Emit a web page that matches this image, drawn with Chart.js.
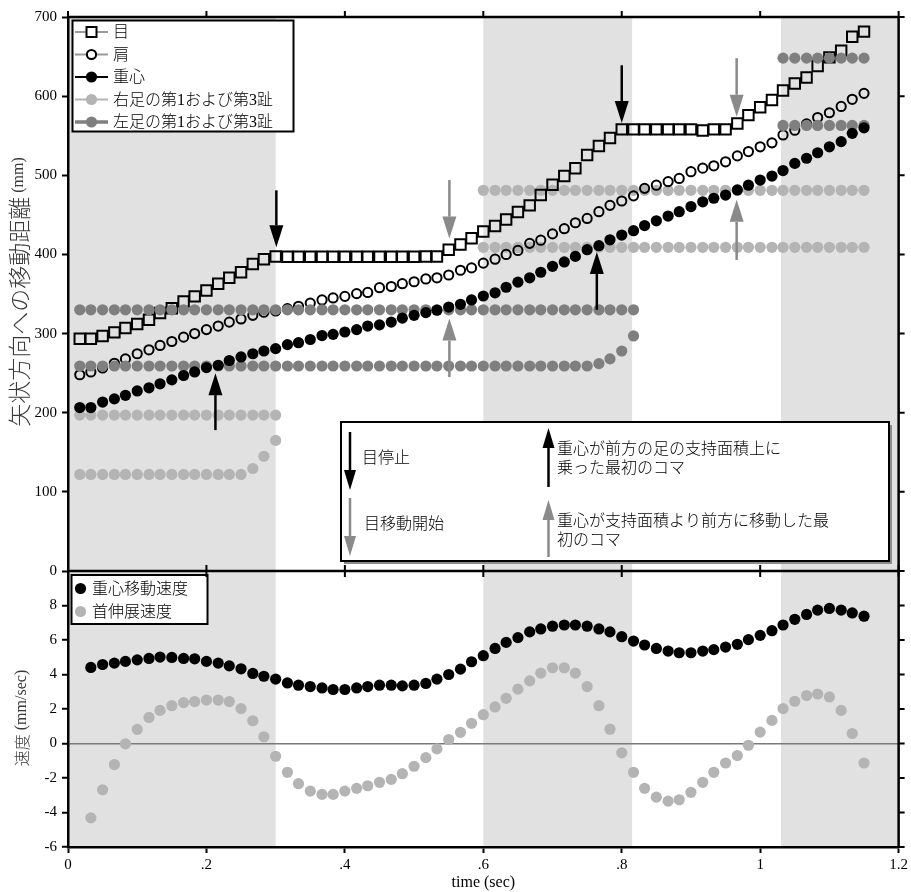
<!DOCTYPE html>
<html>
<head>
<meta charset="utf-8">
<script src="https://cdn.jsdelivr.net/npm/chart.js@4.4.0/dist/chart.umd.min.js"></script>
<style>
  html, body { margin: 0; padding: 0; background: #fff; }
  canvas { display: block; }
</style>
</head>
<body>
<canvas id="gait" width="911" height="892" style="width:911px;height:892px"></canvas>
<script>
// frame times (sec), 60 fps
const times = [
  0.017, 0.033, 0.05, 0.067, 0.083, 0.1, 0.117, 0.133, 0.15, 0.167,
  0.183, 0.2, 0.217, 0.233, 0.25, 0.267, 0.283, 0.3, 0.317, 0.333,
  0.35, 0.367, 0.383, 0.4, 0.417, 0.433, 0.45, 0.467, 0.483, 0.5,
  0.517, 0.533, 0.55, 0.567, 0.583, 0.6, 0.617, 0.633, 0.65, 0.667,
  0.683, 0.7, 0.717, 0.733, 0.75, 0.767, 0.783, 0.8, 0.817, 0.833,
  0.85, 0.867, 0.883, 0.9, 0.917, 0.933, 0.95, 0.967, 0.983, 1.0,
  1.017, 1.033, 1.05, 1.067, 1.083, 1.1, 1.117, 1.133, 1.15
];

// 矢状方向への移動距離 (mm)
const eyePos = [
  293.5, 293.5, 297, 301.5, 307, 312, 317.5, 326, 332, 340.5,
  347, 354.5, 363, 370.5, 377.5, 388, 394, 397.5, 397, 397,
  397, 397, 397, 397, 397, 397, 397, 397, 397, 397,
  397.5, 397.5, 406, 412.5, 420.5, 429, 436, 444, 453.5, 462,
  475, 488, 499, 509, 525.5, 537, 547, 558, 558, 558,
  558, 558, 558, 558, 556.5, 558, 558, 565.5, 576, 586,
  595, 607, 616, 623.5, 638, 649, 657.5, 675, 681.5
];
const shoulderPos = [
  248, 251.5, 256.5, 262.5, 268, 274.5, 279.5, 285, 290, 295.5,
  300, 305, 309.5, 314.5, 318.5, 323, 327, 328.5, 331.5, 334.5,
  338.5, 342.5, 345, 347, 350.5, 352, 358, 359.5, 363, 365.5,
  369, 370.5, 374, 380, 383, 389, 394, 400, 405, 414,
  418, 426, 432.5, 440, 445.5, 454, 462, 467.5, 474, 483.5,
  487.5, 492, 496, 504.5, 509, 512, 517, 524.5, 530, 536,
  541, 551, 557, 565, 573, 579, 587, 596, 603.5
];
const comPos = [
  206.5, 206.5, 213.5, 217.5, 222, 227.5, 231.5, 236.5, 241.5, 247,
  251.5, 257, 260, 266, 270.5, 274.5, 278, 281, 286, 288.5,
  292.5, 297.5, 299, 302, 305, 309.5, 311, 314.5, 319.5, 323,
  326.5, 329.5, 333.5, 337, 342.5, 347.5, 351.5, 358.5, 365, 370.5,
  377.5, 385, 390.5, 397.5, 406, 411, 418.5, 424.5, 430, 436.5,
  442.5, 448.5, 454, 460.5, 466.5, 471, 475, 481.5, 487.5, 494,
  499, 506, 515, 521.5, 528.5, 536, 542.5, 553, 560
];
const rightToeA = [
  197, 197, 197, 197, 197, 197, 197, 197, 197, 197,
  197, 197, 197, 197, 197, 197, 197, 197, null, null,
  null, null, null, null, null, null, null, null, null, null,
  null, null, null, null, null, 481, 481, 481, 481, 481,
  481, 481, 481, 481, 481, 481, 481, 481, 481, 481,
  481, 481, 481, 481, 481, 481, 481, 481, 481, 481,
  481, 481, 481, 481, 481, 481, 481, 481, 481
];
const rightToeB = [
  122, 122, 122, 122, 122, 122, 122, 122, 122, 122,
  122, 122, 122, 122, 122, 129.5, 145, 165, null, null,
  null, null, null, null, null, null, null, null, null, null,
  null, null, null, null, null, 409, 409, 409, 409, 409,
  409, 409, 409, 409, 409, 409, 409, 409, 409, 409,
  409, 409, 409, 409, 409, 409, 409, 409, 409, 409,
  409, 409, 409, 409, 409, 409, 409, 409, 409
];
const leftToeA = [
  330, 330, 330, 330, 330, 330, 330, 330, 330, 330,
  330, 330, 330, 330, 330, 330, 330, 330, 330, 330,
  330, 330, 330, 330, 330, 330, 330, 330, 330, 330,
  330, 330, 330, 330, 330, 330, 330, 330, 330, 330,
  330, 330, 330, 330, 330, 330, 330, 330, 330, null,
  null, null, null, null, null, null, null, null, null, null,
  null, 648, 648, 648, 648, 648, 648, 648, 648
];
const leftToeB = [
  259, 259, 259, 259, 259, 259, 259, 259, 259, 259,
  259, 259, 259, 259, 259, 259, 259, 259, 259, 259,
  259, 259, 259, 259, 259, 259, 259, 259, 259, 259,
  259, 259, 259, 259, 259, 259, 259, 259, 259, 259,
  259, 259, 259, 259, 259, 262, 268, 278, 297, null,
  null, null, null, null, null, null, null, null, null, null,
  null, 563, 563, 563, 563, 563, 563, 563, 563
];

// 速度 (mm/sec)
const comVel = [
  null, 4.41, 4.58, 4.66, 4.76, 4.85, 4.93, 5.01, 4.99, 4.93,
  4.91, 4.76, 4.66, 4.50, 4.33, 4.06, 3.90, 3.73, 3.51, 3.38,
  3.30, 3.22, 3.13, 3.13, 3.22, 3.30, 3.38, 3.38, 3.34, 3.38,
  3.48, 3.73, 4.00, 4.31, 4.74, 5.09, 5.51, 5.86, 6.14, 6.47,
  6.64, 6.80, 6.87, 6.87, 6.80, 6.64, 6.47, 6.19, 5.94, 5.71,
  5.51, 5.36, 5.26, 5.26, 5.36, 5.44, 5.59, 5.75, 6.02, 6.27,
  6.54, 6.87, 7.20, 7.48, 7.73, 7.83, 7.73, 7.57, 7.38
];
const neckVel = [
  null, -4.31, -2.68, -1.22, -0.02, 0.82, 1.51, 1.92, 2.19, 2.37,
  2.43, 2.52, 2.52, 2.43, 2.02, 1.32, 0.39, -0.74, -1.67, -2.33,
  -2.76, -2.95, -2.95, -2.76, -2.60, -2.45, -2.25, -2.08, -1.75, -1.32,
  -0.82, -0.31, 0.23, 0.65, 1.17, 1.67, 2.12, 2.62, 3.15, 3.63,
  4.08, 4.39, 4.39, 4.08, 3.30, 2.19, 0.83, -0.54, -1.67, -2.60,
  -3.11, -3.34, -3.26, -2.83, -2.25, -1.67, -1.13, -0.70, -0.10, 0.66,
  1.34, 2.02, 2.45, 2.78, 2.87, 2.70, 1.92, 0.58, -1.13
];

// shaded time spans (sec)
const bandStart = [0, 0.6, 1.03];
const bandEnd = [0.3, 0.815, 1.2];

// marker arrows in the top panel: time, from value, to value (tip)
const arrowTime = [0.301, 0.8, 0.551, 0.966, 0.213, 0.764, 0.551, 0.966];
const arrowFrom = [481, 639, 494, 648, 178, 330, 245, 393];
const arrowTo   = [409, 566, 420, 574, 250, 403, 319, 469];
const arrowKind = ['stop', 'stop', 'start', 'start', 'on', 'on', 'ahead', 'ahead'];

const BLACK = '#000';
const DARK = '#7f7f7f';
const LIGHT = '#b4b4b4';
const ARROW_GRAY = '#8a8a8a';
const BAND = '#e1e1e1';
const FONT = "'Liberation Serif', 'Noto Sans CJK JP', serif";
const CJK = "'Noto Sans CJK JP', sans-serif";

Chart.defaults.font.family = FONT;
Chart.defaults.color = '#000';

function drawArrow(ctx, x, y0, y1, color, head, half) {
  const dir = y1 > y0 ? 1 : -1;
  ctx.save();
  ctx.strokeStyle = color;
  ctx.fillStyle = color;
  ctx.lineWidth = 2.5;
  ctx.beginPath();
  ctx.moveTo(x, y0);
  ctx.lineTo(x, y1 - dir * head);
  ctx.stroke();
  ctx.beginPath();
  ctx.moveTo(x, y1);
  ctx.lineTo(x - half, y1 - dir * head);
  ctx.lineTo(x + half, y1 - dir * head);
  ctx.closePath();
  ctx.fill();
  ctx.restore();
}

function drawMarker(ctx, kind, x, y) {
  ctx.save();
  if (kind === 'square') {
    ctx.fillStyle = '#fff';
    ctx.fillRect(x - 5, y - 5, 10, 10);
    ctx.strokeStyle = BLACK;
    ctx.lineWidth = 2;
    ctx.strokeRect(x - 5, y - 5, 10, 10);
  } else if (kind === 'ring') {
    ctx.beginPath();
    ctx.arc(x, y, 4.6, 0, Math.PI * 2);
    ctx.fillStyle = '#fff';
    ctx.fill();
    ctx.strokeStyle = BLACK;
    ctx.lineWidth = 2;
    ctx.stroke();
  } else {
    ctx.beginPath();
    ctx.arc(x, y, 5.6, 0, Math.PI * 2);
    ctx.fillStyle = kind;
    ctx.fill();
  }
  ctx.restore();
}

function box(ctx, x0, y0, x1, y1, shadow) {
  ctx.save();
  if (shadow) {
    ctx.fillStyle = '#8c8c8c';
    ctx.fillRect(x0 + 3, y0 + 3, x1 - x0, y1 - y0);
  }
  ctx.fillStyle = '#fff';
  ctx.fillRect(x0, y0, x1 - x0, y1 - y0);
  ctx.strokeStyle = BLACK;
  ctx.lineWidth = 2;
  ctx.strokeRect(x0, y0, x1 - x0, y1 - y0);
  ctx.restore();
}

// rotated axis title made of runs in different fonts, centred on (cx, cy)
function sideTitle(ctx, runs, cx, cy) {
  ctx.save();
  ctx.translate(cx, cy);
  ctx.rotate(-Math.PI / 2);
  ctx.textBaseline = 'middle';
  ctx.fillStyle = '#3a3a3a';
  let total = 0;
  runs.forEach(r => { ctx.font = r[1]; total += ctx.measureText(r[0]).width; });
  let x0 = -total / 2;
  runs.forEach(r => {
    ctx.font = r[1];
    ctx.fillText(r[0], x0, 0);
    x0 += ctx.measureText(r[0]).width;
  });
  ctx.restore();
}

const decorations = {
  id: 'decorations',
  beforeDraw(chart) {
    const {ctx, chartArea: a, scales: {x}} = chart;
    ctx.save();
    ctx.fillStyle = BAND;
    bandStart.forEach((s, i) => {
      const x0 = x.getPixelForValue(s);
      const x1 = x.getPixelForValue(bandEnd[i]);
      ctx.fillRect(x0, a.top, x1 - x0, a.bottom - a.top);
    });
    ctx.restore();
  },
  afterDatasetsDraw(chart) {
    const {ctx, scales: {x, yD}} = chart;
    const ds = chart.data.datasets;

    // arrows on the data
    arrowTime.forEach((t, i) => {
      const k = arrowKind[i];
      const color = (k === 'stop' || k === 'on') ? BLACK : ARROW_GRAY;
      drawArrow(ctx, x.getPixelForValue(t), yD.getPixelForValue(arrowFrom[i]),
        yD.getPixelForValue(arrowTo[i]), color, 22, 7);
    });

    ctx.save();
    ctx.font = '300 16px ' + FONT;
    ctx.textBaseline = 'middle';
    ctx.fillStyle = BLACK;

    // top legend
    box(ctx, 72.5, 20.5, 293.5, 131.5, false);
    const topItems = [
      {ds: 4, line: '#9a9a9a', lw: 2, mark: 'square'},
      {ds: 3, line: '#9a9a9a', lw: 2, mark: 'ring'},
      {ds: 0, line: BLACK, lw: 2, mark: BLACK},
      {ds: 5, line: LIGHT, lw: 2, mark: LIGHT},
      {ds: 1, line: DARK, lw: 3.5, mark: DARK}
    ];
    topItems.forEach((it, i) => {
      const y = 32 + i * 22.5;
      ctx.save();
      ctx.strokeStyle = it.line;
      ctx.lineWidth = it.lw;
      ctx.beginPath();
      ctx.moveTo(75, y);
      ctx.lineTo(108, y);
      ctx.stroke();
      ctx.restore();
      drawMarker(ctx, it.mark, 91.5, y);
      ctx.fillStyle = BLACK;
      ctx.fillText(ds[it.ds].label, 113, y + 1);
    });

    // bottom legend
    box(ctx, 71.5, 575, 207.5, 624, false);
    [{ds: 7, mark: BLACK}, {ds: 8, mark: LIGHT}].forEach((it, i) => {
      const y = 588.5 + i * 23;
      drawMarker(ctx, it.mark, 80.5, y);
      ctx.fillStyle = BLACK;
      ctx.fillText(ds[it.ds].label, 92, y + 1);
    });

    // arrow key
    box(ctx, 341, 422, 889, 561, true);
    drawArrow(ctx, 350, 432, 490, BLACK, 20, 6);
    drawArrow(ctx, 350, 498, 556, ARROW_GRAY, 20, 6);
    drawArrow(ctx, 548.5, 487, 428, BLACK, 20, 6);
    drawArrow(ctx, 548.5, 557, 500, ARROW_GRAY, 20, 6);
    ctx.fillStyle = BLACK;
    ctx.fillText('目停止', 362, 459);
    ctx.fillText('目移動開始', 364, 525);
    ctx.fillText('重心が前方の足の支持面積上に', 557, 450);
    ctx.fillText('乗った最初のコマ', 557, 469);
    ctx.fillText('重心が支持面積より前方に移動した最', 557, 522);
    ctx.fillText('初のコマ', 557, 541);
    ctx.restore();
  },
  afterDraw(chart) {
    const {ctx, chartArea: a, scales: {x, yD, yV}} = chart;
    const mid = yD.bottom;
    ctx.save();
    ctx.strokeStyle = BLACK;
    ctx.lineWidth = 2.5;
    ctx.beginPath();
    ctx.moveTo(a.left - 1, a.top);
    ctx.lineTo(a.right, a.top);
    ctx.lineTo(a.right, a.bottom + 1);
    ctx.moveTo(a.left, mid);
    ctx.lineTo(a.right, mid);
    ctx.stroke();

    ctx.lineWidth = 2;
    ctx.beginPath();
    x.ticks.forEach(t => {
      const px = x.getPixelForValue(t.value);
      ctx.moveTo(px, a.top);
      ctx.lineTo(px, a.top - 6);
      ctx.moveTo(px, mid - 6);
      ctx.lineTo(px, mid + 6);
    });
    yD.ticks.forEach(t => {
      const py = yD.getPixelForValue(t.value);
      ctx.moveTo(a.right, py);
      ctx.lineTo(a.right + 6, py);
    });
    yV.ticks.forEach(t => {
      if (t.value === 10) return;
      const py = yV.getPixelForValue(t.value);
      ctx.moveTo(a.right, py);
      ctx.lineTo(a.right + 6, py);
    });
    ctx.stroke();
    ctx.restore();

    // axis titles
    sideTitle(ctx, [['矢状方向への移動距離', '300 23px ' + CJK], [' (mm)', '16px ' + FONT]],
      19, (yD.top + yD.bottom) / 2 - 2);
    sideTitle(ctx, [['速度', '300 16px ' + CJK], [' (mm/sec)', '16px ' + FONT]],
      22, (yV.top + yV.bottom) / 2 + 9);
  }
};

function timeLabel(v) {
  const r = Math.round(v * 10) / 10;
  if (r === 0) return '0';
  const s = String(r);
  return s.startsWith('0.') ? s.slice(1) : s;
}

const filled = (color) => ({
  showLine: false, pointRadius: 5.6, pointBorderWidth: 0,
  pointBackgroundColor: color, pointBorderColor: color
});

new Chart(document.getElementById('gait'), {
  type: 'line',
  data: {
    labels: times,
    datasets: [
      Object.assign({label: '重心', data: comPos, yAxisID: 'yD'}, filled(BLACK)),
      Object.assign({label: '左足の第1および第3趾', data: leftToeA, yAxisID: 'yD'}, filled(DARK)),
      Object.assign({label: '左足の第1および第3趾', data: leftToeB, yAxisID: 'yD'}, filled(DARK)),
      {label: '肩', data: shoulderPos, yAxisID: 'yD', showLine: false,
        pointStyle: 'circle', pointRadius: 4.6, pointBorderWidth: 2,
        pointBorderColor: BLACK, pointBackgroundColor: 'rgba(0,0,0,0)'},
      {label: '目', data: eyePos, yAxisID: 'yD', showLine: false,
        pointStyle: 'rect', pointRadius: 7.4, pointBorderWidth: 2,
        pointBorderColor: BLACK, pointBackgroundColor: 'rgba(0,0,0,0)'},
      Object.assign({label: '右足の第1および第3趾', data: rightToeA, yAxisID: 'yD'}, filled(LIGHT)),
      Object.assign({label: '右足の第1および第3趾', data: rightToeB, yAxisID: 'yD'}, filled(LIGHT)),
      Object.assign({label: '重心移動速度', data: comVel, yAxisID: 'yV'}, filled(BLACK)),
      Object.assign({label: '首伸展速度', data: neckVel, yAxisID: 'yV'}, filled(LIGHT))
    ]
  },
  options: {
    responsive: false,
    animation: false,
    devicePixelRatio: 1,
    events: [],
    layout: {padding: {top: 17, right: 11, bottom: 0, left: 0}},
    plugins: {legend: {display: false}, tooltip: {enabled: false}},
    scales: {
      x: {
        type: 'linear', min: 0, max: 1.2,
        ticks: {stepSize: 0.2, padding: 3, autoSkip: false, font: {size: 15}, maxRotation: 0, callback: timeLabel},
        grid: {drawOnChartArea: false, tickLength: 6, tickWidth: 2, tickColor: BLACK},
        border: {width: 2.5, color: BLACK},
        title: {display: true, text: 'time (sec)', font: {size: 16}, padding: {top: 0, bottom: 0}},
        afterFit: (s) => { s.height = 45; }
      },
      yV: {
        type: 'linear', position: 'left', stack: 'panels', stackWeight: 276,
        min: -6, max: 10,
        ticks: {stepSize: 2, padding: 5, autoSkip: false, font: {size: 15},
          callback: (v) => (v === 10 ? null : String(v))},
        grid: {
          drawOnChartArea: true, tickLength: 6, tickWidth: 2, tickColor: BLACK, lineWidth: 1.5,
          color: (c) => (c.tick && c.tick.value === 0 ? '#7a7a7a' : 'rgba(0,0,0,0)')
        },
        border: {width: 2.5, color: BLACK},
        afterFit: (s) => { s.width = 68; }
      },
      yD: {
        type: 'linear', position: 'left', stack: 'panels', stackWeight: 554,
        min: 0, max: 700,
        ticks: {stepSize: 100, padding: 5, autoSkip: false, font: {size: 15}},
        grid: {drawOnChartArea: false, tickLength: 6, tickWidth: 2, tickColor: BLACK},
        border: {width: 2.5, color: BLACK},
        afterFit: (s) => { s.width = 68; }
      }
    }
  },
  plugins: [decorations]
});
</script>
</body>
</html>
